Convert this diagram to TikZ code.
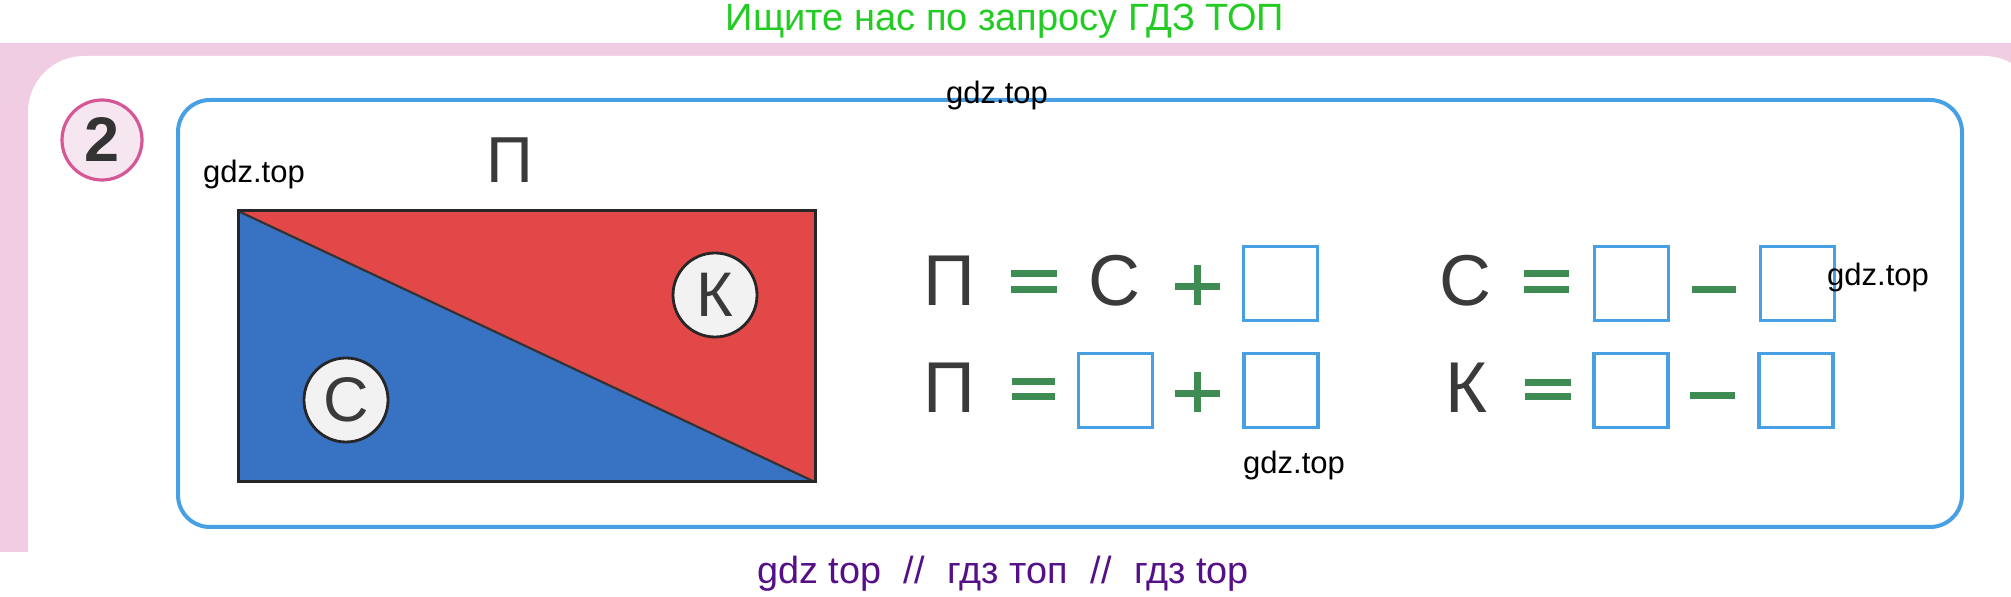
\documentclass[tikz,border=0pt]{standalone}
\usepackage{fontspec}
\setmainfont{Liberation Sans}
\definecolor{pinkbg}{RGB}{240,205,226}
\definecolor{pinkring}{RGB}{214,86,150}
\definecolor{ringfill}{RGB}{245,230,240}
\definecolor{frameblue}{RGB}{72,160,228}
\definecolor{redtri}{RGB}{226,72,72}
\definecolor{bluetri}{RGB}{56,114,194}
\definecolor{signgreen}{RGB}{62,140,84}
\definecolor{lettergray}{RGB}{58,58,58}
\definecolor{topgreen}{RGB}{34,204,34}
\definecolor{botpurple}{RGB}{85,15,135}
\newcommand{\fsz}[1]{\fontsize{#1}{#1}\selectfont}
\begin{document}
\begin{tikzpicture}[x=0.5pt,y=-0.5pt,
  wmark/.style={anchor=base,inner sep=0pt,font=\fsz{15.5pt},text=black},
  bigletter/.style={inner sep=0pt,font=\fsz{36pt},text=lettergray},
  letcircle/.style={circle,draw=black!85,line width=1.4pt,fill=white!95!black,minimum size=42pt,inner sep=0pt,font=\fsz{31.5pt},text=lettergray},
  ansbox/.style={draw=frameblue,line width=1.75pt,minimum width=37pt,minimum height=37pt,inner sep=0pt},
  greenbar/.style={fill=signgreen}]
\useasboundingbox (0,0) rectangle (2011,597);
\clip (0,0) rectangle (2011,597);
% page background
\fill[pinkbg] (0,43) rectangle (2011,552);
\fill[white,rounded corners=28pt] (28,56) rectangle (2040,700);
% frame
\draw[frameblue,line width=2pt,rounded corners=16pt] (178,100) rectangle (1962,527);
% number badge
\node[circle,draw=pinkring,line width=1.6pt,fill=ringfill,minimum size=40pt,inner sep=0pt,
  font=\fsz{31.5pt}\bfseries,text=black!80] (num) at (102,140) {2};
% rectangle split by diagonal
\coordinate (tl) at (238,211);
\coordinate (tr) at (815,211);
\coordinate (br) at (815,482);
\coordinate (bl) at (238,482);
\fill[redtri] (tl) -- (tr) -- (br) -- cycle;
\fill[bluetri] (tl) -- (bl) -- (br) -- cycle;
\draw[black!80,line width=1.1pt] (tl) -- (br);
\draw[black!85,line width=1.5pt] (tl) rectangle (br);
\node[letcircle] (kc) at (715,295) {К};
\node[letcircle] (cc) at (346,400) {С};
\node[inner sep=0pt,font=\fsz{32.5pt},text=lettergray] (ptop) at (510,160) {П};
% equations row 1
\node[bigletter] (p1) at (949.5,281) {П};
\fill[greenbar] (1011,270) rectangle (1057,277);
\fill[greenbar] (1011,286) rectangle (1057,293);
\node[bigletter] (c1) at (1114,280.5) {С};
\fill[greenbar] (1175,283) rectangle (1220,290);
\fill[greenbar] (1194,265) rectangle (1201,305);
\node[ansbox] (b11) at (1280.5,283.5) {};
\node[bigletter] (c2) at (1465.5,281) {С};
\fill[greenbar] (1524,270) rectangle (1569,277);
\fill[greenbar] (1524,286) rectangle (1569,293);
\node[ansbox] (b12) at (1631.5,283.5) {};
\fill[greenbar] (1692,286) rectangle (1736,293);
\node[ansbox] (b13) at (1797.5,283.5) {};
% equations row 2
\node[bigletter] (p2) at (949.5,387.5) {П};
\fill[greenbar] (1012,378) rectangle (1055,385);
\fill[greenbar] (1012,393) rectangle (1055,400);
\node[ansbox] (b21) at (1115.5,390.5) {};
\fill[greenbar] (1175,390) rectangle (1220,397);
\fill[greenbar] (1194,372) rectangle (1201,412);
\node[ansbox] (b22) at (1281,390.5) {};
\node[bigletter] (k2) at (1466,387.5) {К};
\fill[greenbar] (1525,379) rectangle (1571,386);
\fill[greenbar] (1525,393) rectangle (1571,400);
\node[ansbox] (b23) at (1631,390.5) {};
\fill[greenbar] (1690,392) rectangle (1735,399);
\node[ansbox] (b24) at (1796,390.5) {};
% watermarks
\node[wmark] (w1) at (997,104) {gdz.top};
\node[wmark] (w2) at (254,183) {gdz.top};
\node[wmark] (w3) at (1878,286) {gdz.top};
\node[wmark] (w4) at (1294,474) {gdz.top};
\node[anchor=base,inner sep=0pt,font=\fsz{19pt},text=topgreen] (toptext) at (1005,31) {Ищите нас по запросу ГДЗ ТОП};
\node[anchor=base,inner sep=0pt,font=\fsz{18.9pt},text=botpurple] (bottext) at (1003,583)
  {gdz top\hspace{0.6em}//\hspace{0.6em}гдз топ\hspace{0.6em}//\hspace{0.6em}гдз top};
\end{tikzpicture}
\end{document}
